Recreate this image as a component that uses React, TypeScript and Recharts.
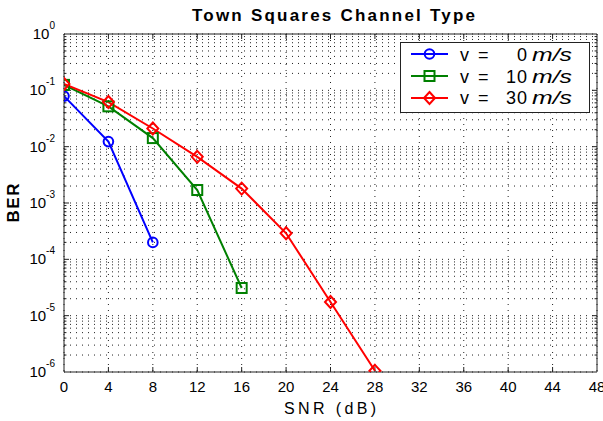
import React from 'react';
import { LineChart, Line, XAxis, YAxis, CartesianGrid, ReferenceLine, Legend } from 'recharts';

const FONT = '"Liberation Sans", Arial, Helvetica, sans-serif';

// Tick labels / axes
const xTicks = [0, 4, 8, 12, 16, 20, 24, 28, 32, 36, 40, 44, 48];
const yMajor = [1e-6, 1e-5, 1e-4, 1e-3, 1e-2, 1e-1, 1];
const minorMult = [2, 3, 4, 5, 6, 7, 8, 9];
const yMinor = yMajor.slice(0, -1).flatMap((d) => minorMult.map((m) => d * m));
const yGrid = [...yMajor, ...yMinor];

// Series
const seriesNames = ['v =   0 m/s', 'v = 10 m/s', 'v = 30 m/s'];
const snr0 = [0, 4, 8];
const ber0 = [0.079, 0.0123, 0.0002];
const snr10 = [0, 4, 8, 12, 16];
const ber10 = [0.125, 0.052, 0.0142, 0.0017, 0.000031];
const snr30 = [0, 4, 8, 12, 16, 20, 24, 28];
const ber30 = [0.13, 0.062, 0.021, 0.0066, 0.0018, 0.00029, 0.0000175, 0.00000105];

const data0 = snr0.map((x, i) => ({ snr: x, ber: ber0[i] }));
const data10 = snr10.map((x, i) => ({ snr: x, ber: ber10[i] }));
const data30 = snr30.map((x, i) => ({ snr: x, ber: ber30[i] }));

const BLUE = '#0000ff';
const GREEN = '#008000';
const RED = '#ff0000';
const FRAME = '#222';
const GRID = '#222';

const CircleDot = (props: any) => {
  const { cx, cy } = props;
  if (cx == null || cy == null) return null;
  return <circle cx={cx} cy={cy} r={4.8} fill="none" stroke={BLUE} strokeWidth={2} />;
};
const SquareDot = (props: any) => {
  const { cx, cy } = props;
  if (cx == null || cy == null) return null;
  return <rect x={cx - 5} y={cy - 5} width={10} height={10} fill="none" stroke={GREEN} strokeWidth={2} />;
};
const DiamondDot = (props: any) => {
  const { cx, cy } = props;
  if (cx == null || cy == null) return null;
  return (
    <polygon
      points={`${cx},${cy - 6} ${cx + 5.5},${cy} ${cx},${cy + 6} ${cx - 5.5},${cy}`}
      fill="none"
      stroke={RED}
      strokeWidth={2}
    />
  );
};

const YTick = (props: any) => {
  const { x, y, payload } = props;
  const exp = Math.round(Math.log10(payload.value));
  return (
    <text x={x - 1} y={y + 5} textAnchor="end" fontFamily={FONT} fontSize={15} fill="#000">
      10
      <tspan dy={-10} fontSize={10}>{exp === 0 ? '0' : String(exp)}</tspan>
    </text>
  );
};

const XTick = (props: any) => {
  const { x, payload } = props;
  return (
    <text x={x} y={392} textAnchor="middle" fontFamily={FONT} fontSize={15} fill="#000">
      {payload.value}
    </text>
  );
};

const markerFor = (i: number, cx: number, cy: number) => {
  if (i === 0) return <CircleDot cx={cx} cy={cy} />;
  if (i === 1) return <SquareDot cx={cx} cy={cy} />;
  return <DiamondDot cx={cx} cy={cy} />;
};

const LegendBox = () => {
  const colors = [BLUE, GREEN, RED];
  const nums = ['0', '10', '30'];
  return (
    <svg width={190} height={71} style={{ display: 'block' }}>
      <rect x={0.5} y={0.5} width={189} height={70} fill="#fff" stroke={FRAME} strokeWidth={1} />
      {colors.map((c, i) => {
        const ly = 12 + i * 22;
        const by = 19 + i * 21.5;
        return (
          <g key={i}>
            <line x1={11} y1={ly} x2={48} y2={ly} stroke={c} strokeWidth={2} />
            {markerFor(i, 29.5, ly)}
            <text x={60} y={by} fontFamily={FONT} fontSize={18} fill="#000" letterSpacing={2}>
              {'v ='}
            </text>
            <text x={128} y={by} textAnchor="end" fontFamily={FONT} fontSize={18} fill="#000" letterSpacing={1}>
              {nums[i]}
            </text>
            <text
              x={132}
              y={by}
              fontFamily={FONT}
              fontSize={18}
              fontStyle="italic"
              fill="#000"
              textLength={40}
              lengthAdjust="spacingAndGlyphs"
            >
              {'m/s'}
            </text>
          </g>
        );
      })}
    </svg>
  );
};

// inward tick lengths expressed in data units
const xTickLenDecFactor = 1.227;
const yMajorTickDb = 0.45;
const yMinorTickDb = 0.22;

export default function App() {
  return (
    <div style={{ position: 'absolute', left: 0, top: 0, width: 603, height: 421, background: '#fff' }}>
      <LineChart width={603} height={421} margin={{ top: 34, right: 6, bottom: 0, left: 0 }}>
        <CartesianGrid
          stroke={GRID}
          strokeDasharray="1 5"
          horizontalValues={yGrid}
          verticalValues={xTicks}
          horizontal
          vertical
        />
        <XAxis
          dataKey="snr"
          type="number"
          domain={[0, 48]}
          ticks={xTicks}
          interval={0}
          height={49}
          stroke={FRAME}
          tickLine={false}
          tick={<XTick />}
          allowDataOverflow
        />
        <YAxis
          dataKey="ber"
          type="number"
          scale="log"
          domain={[1e-6, 1]}
          ticks={yMajor}
          interval={0}
          width={64}
          stroke={FRAME}
          tickLine={false}
          tick={<YTick />}
          allowDataOverflow
        />
        <ReferenceLine y={1} stroke={FRAME} strokeWidth={1} />
        <ReferenceLine x={48} stroke={FRAME} strokeWidth={1} />
        {xTicks.slice(1, -1).map((v) => (
          <ReferenceLine
            key={'xb' + v}
            segment={[{ x: v, y: 1e-6 }, { x: v, y: 1e-6 * xTickLenDecFactor }]}
            stroke={FRAME}
          />
        ))}
        {xTicks.slice(1, -1).map((v) => (
          <ReferenceLine
            key={'xt' + v}
            segment={[{ x: v, y: 1 }, { x: v, y: 1 / xTickLenDecFactor }]}
            stroke={FRAME}
          />
        ))}
        {yMajor.slice(1, -1).map((v) => (
          <ReferenceLine key={'yl' + v} segment={[{ x: 0, y: v }, { x: yMajorTickDb, y: v }]} stroke={FRAME} />
        ))}
        {yMajor.slice(1, -1).map((v) => (
          <ReferenceLine key={'yr' + v} segment={[{ x: 48, y: v }, { x: 48 - yMajorTickDb, y: v }]} stroke={FRAME} />
        ))}
        {yMinor.map((v) => (
          <ReferenceLine key={'yml' + v} segment={[{ x: 0, y: v }, { x: yMinorTickDb, y: v }]} stroke={FRAME} />
        ))}
        {yMinor.map((v) => (
          <ReferenceLine key={'ymr' + v} segment={[{ x: 48, y: v }, { x: 48 - yMinorTickDb, y: v }]} stroke={FRAME} />
        ))}
        <Line
          data={data0}
          dataKey="ber"
          name={seriesNames[0]}
          stroke={BLUE}
          strokeWidth={2}
          dot={<CircleDot />}
          activeDot={false}
          isAnimationActive={false}
        />
        <Line
          data={data10}
          dataKey="ber"
          name={seriesNames[1]}
          stroke={GREEN}
          strokeWidth={2}
          dot={<SquareDot />}
          activeDot={false}
          isAnimationActive={false}
        />
        <Line
          data={data30}
          dataKey="ber"
          name={seriesNames[2]}
          stroke={RED}
          strokeWidth={2}
          dot={<DiamondDot />}
          activeDot={false}
          isAnimationActive={false}
        />
        <Legend
          layout="vertical"
          align="center"
          verticalAlign="middle"
          wrapperStyle={{ left: 400, top: 42, width: 190, height: 71 }}
          content={() => <LegendBox />}
        />
        <text
          x={192}
          y={21}
          fontFamily={FONT}
          fontSize={17}
          fontWeight="bold"
          fill="#000"
          textLength={283}
          lengthAdjust="spacing"
        >
          Town Squares Channel Type
        </text>
        <text
          x={330}
          y={414}
          textAnchor="middle"
          fontFamily={FONT}
          fontSize={16}
          fill="#000"
          textLength={92}
          lengthAdjust="spacing"
        >
          SNR (dB)
        </text>
        <text
          x={19}
          y={203}
          textAnchor="middle"
          fontFamily={FONT}
          fontSize={17}
          fontWeight="bold"
          fill="#000"
          transform="rotate(-90 19 203)"
          textLength={39}
          lengthAdjust="spacing"
        >
          BER
        </text>
      </LineChart>
    </div>
  );
}
